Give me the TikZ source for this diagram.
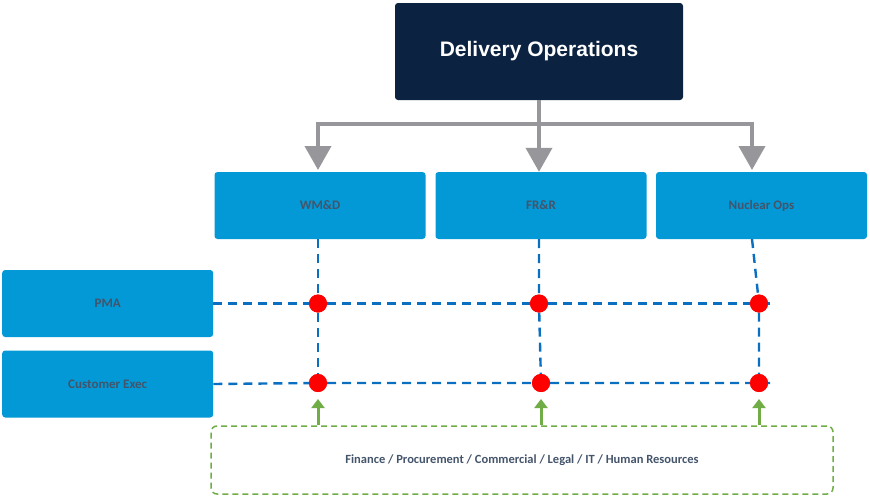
\documentclass[tikz,border=0pt]{standalone}
\usepackage{fontspec}
\setmainfont{Carlito}
\newfontfamily\headfont{Liberation Sans}
\usetikzlibrary{arrows.meta}
\definecolor{navy}{HTML}{0B2240}
\definecolor{boxblue}{HTML}{0399D6}
\definecolor{txtgray}{HTML}{44546A}
\definecolor{linegray}{HTML}{97979B}
\definecolor{dashblue}{HTML}{0A6EC1}
\definecolor{leafgreen}{HTML}{70AD47}

\begin{document}
\begin{tikzpicture}[x=1pt, y=-1pt,
  unit/.style = {fill = boxblue, rounded corners = 3pt, minimum width = 211pt,
    minimum height = 67pt, text = txtgray, font = \bfseries\fontsize{13}{15}\selectfont},
  feed/.style = {-{Triangle[length = 24pt, width = 26pt]}, line width = 4pt, color = linegray},
  matrixline/.style = {dashblue, line width = 2.4pt, dash pattern = on 9pt off 6pt},
  support/.style = {-{Triangle[length = 9pt, width = 13pt]}, line width = 3pt, color = leafgreen},
  hit/.style = {circle, fill = red, inner sep = 0pt, minimum size = 18pt}]
\useasboundingbox (0, 0) rectangle (870, 498);
% top of the chart
\node (head) [fill = navy, rounded corners = 3pt, minimum width = 288pt, minimum height = 97pt,
  text = white, font = \headfont\bfseries\fontsize{21}{25}\selectfont] at (539, 51.5) {Delivery Operations};
\node (wmd) [unit] at (320, 205.5) {WM\&D};
\node (frr) [unit] at (541, 205.5) {FR\&R};
\node (nuc) [unit] at (761.5, 205.5) {Nuclear Ops};
\node (pma) [unit, anchor = west] at (2, 303.5) {PMA};
\node (cex) [unit, anchor = west] at (2, 384) {Customer Exec};
\node (shared) [draw = leafgreen, line width = 1.5pt, dash pattern = on 6pt off 4pt, rounded corners = 6pt,
  minimum width = 622pt, minimum height = 68pt, text = txtgray, font = \bfseries\fontsize{12.5}{15}\selectfont]
  at (522, 460) {Finance / Procurement / Commercial / Legal / IT / Human Resources};
% crossing points
\node (a1) [hit] at (318, 303.5) {};
\node (b1) [hit] at (539, 303.5) {};
\node (c1) [hit] at (759, 303.5) {};
\node (a2) [hit] at (318, 383) {};
\node (b2) [hit] at (541, 383) {};
\node (c2) [hit] at (759, 383) {};
\coordinate (pend) at (770, 303.5);
\coordinate (cend) at (770, 383);
% grey feed
\draw [feed] (head.south) -- (head.south |- wmd.north);
\draw [feed] (head.south) ++(0, 24) -| (318, 170);
\draw [feed] (head.south) ++(0, 24) -| (752, 170);
% dashed matrix
\draw [matrixline] (318, 239) -- (a1) -- (a2);
\draw [matrixline] (539, 239) -- (b1) -- (b2);
\draw [matrixline] (752, 239) -- (c1) -- (c2);
\draw [matrixline] (pma.east) -- (a1) -- (b1) -- (c1) -- (pend);
\draw [matrixline] (cex.east) -- (a2) -- (b2) -- (c2) -- (cend);
\foreach \n in {a1, b1, c1, a2, b2, c2} \node [hit] at (\n) {};
% support arrows
\draw [support] (shared.north -| a2) -- (318, 399);
\draw [support] (shared.north -| b2) -- (541, 399);
\draw [support] (shared.north -| c2) -- (759, 399);
\end{tikzpicture}
\end{document}
